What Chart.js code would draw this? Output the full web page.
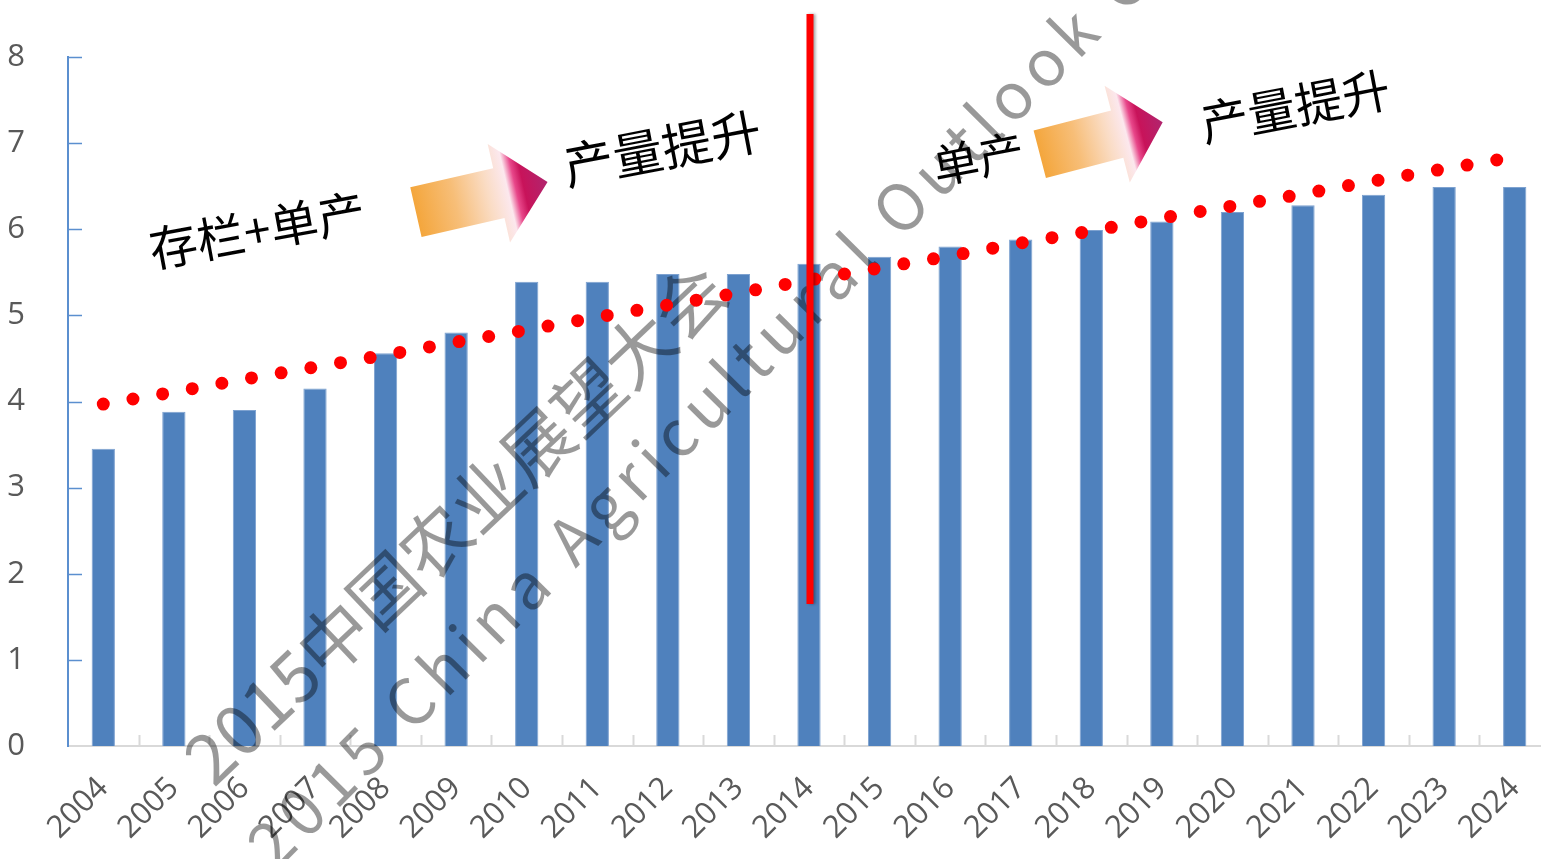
<!DOCTYPE html>
<html>
<head>
<meta charset="utf-8">
<script src="https://cdn.jsdelivr.net/npm/chart.js@4/dist/chart.umd.min.js"></script>
<style>
  html, body { margin: 0; padding: 0; background: #fff; overflow: hidden; }
  #wrap { width: 1550px; height: 859px; }
</style>
</head>
<body>
<div id="wrap"><canvas id="c" width="1550" height="859"></canvas></div>
<script>
// data
const years = ['2004', '2005', '2006', '2007', '2008', '2009', '2010', '2011', '2012', '2013', '2014',
  '2015', '2016', '2017', '2018', '2019', '2020', '2021', '2022', '2023', '2024'];
const output = [3.45, 3.88, 3.90, 4.15, 4.56, 4.80, 5.39, 5.39, 5.48, 5.48, 5.60,
  5.68, 5.80, 5.88, 5.99, 6.09, 6.20, 6.28, 6.40, 6.49, 6.49];
const trend = [3.97, 4.11, 4.26, 4.40, 4.54, 4.69, 4.83, 4.98, 5.12, 5.26, 5.41,
  5.55, 5.69, 5.84, 5.98, 6.13, 6.27, 6.41, 6.56, 6.70, 6.84];
const yTicks = [0, 1, 2, 3, 4, 5, 6, 7, 8];
const dividerYear = '2014';
const dividerSpan = [1.65, 8.5];
const phaseText = ['存栏+单产', '产量提升', '单产', '产量提升'];
const watermark = ['2015中国农业展望大会', '2015 China Agricultural Outlook Conference'];

const CJK = "'Noto Sans CJK SC', 'Noto Sans', sans-serif";
Chart.defaults.font.family = "'Open Sans', sans-serif";

// where the annotations sit, in (category index, y value)
const texts = [
  { t: phaseText[0], at: [2.18, 5.99], rot: -10.5, size: 48 },
  { t: phaseText[1], at: [7.92, 6.94], rot: -10.8, size: 50 },
  { t: phaseText[2], at: [12.40, 6.82], rot: -11, size: 46 },
  { t: phaseText[3], at: [16.89, 7.43], rot: -10.9, size: 48 }
];
const arrows = [
  { at: [4.43, 6.20], rot: -12.8, len: 135, shaft: 25.5, head: 50.5 },
  { at: [13.27, 6.87], rot: -14.6, len: 127, shaft: 24.5, head: 50 }
];

function spacedWidth(ctx, s, sp) {
  let w = 0;
  for (const ch of s) w += ctx.measureText(ch).width + sp;
  return w - sp;
}
function drawSpaced(ctx, s, x, sp) {
  for (const ch of s) { ctx.fillText(ch, x, 0); x += ctx.measureText(ch).width + sp; }
}

function drawWatermark(chart) {
  const ctx = chart.ctx;
  ctx.save();
  ctx.fillStyle = 'rgba(0,0,0,0.4)';
  ctx.textBaseline = 'middle';
  ctx.textAlign = 'left';
  // chinese line, centred
  ctx.save();
  ctx.font = '70px ' + CJK;
  ctx.translate(455, 523);
  ctx.rotate(-43.5 * Math.PI / 180);
  drawSpaced(ctx, watermark[0], -spacedWidth(ctx, watermark[0], 0) / 2, 0);
  ctx.restore();
  // english line, placed by its "A"
  ctx.save();
  ctx.font = '64px ' + CJK;
  const sp = 7.6;
  const pre = spacedWidth(ctx, '2015 China ', sp) + sp + ctx.measureText('A').width / 2;
  ctx.translate(572, 538);
  ctx.rotate(-45.3 * Math.PI / 180);
  drawSpaced(ctx, watermark[1], -pre, sp);
  ctx.restore();
  ctx.restore();
}

function drawArrow(ctx, a, x, y) {
  ctx.save();
  ctx.translate(x, y);
  ctx.rotate(a.rot * Math.PI / 180);
  const hb = a.len * 0.63;
  const g = ctx.createLinearGradient(0, 0, a.len, 0);
  g.addColorStop(0, '#F4A63C');
  g.addColorStop(0.3, '#F7BE78');
  g.addColorStop(0.55, '#FADCC4');
  g.addColorStop(0.7, '#FCE8EE');
  g.addColorStop(0.76, '#E8478A');
  g.addColorStop(0.82, '#C8135A');
  g.addColorStop(1, '#B0256E');
  ctx.fillStyle = g;
  ctx.beginPath();
  ctx.moveTo(0, -a.shaft);
  ctx.lineTo(hb, -a.shaft);
  ctx.lineTo(hb, -a.head);
  ctx.lineTo(a.len, 0);
  ctx.lineTo(hb, a.head);
  ctx.lineTo(hb, a.shaft);
  ctx.lineTo(0, a.shaft);
  ctx.closePath();
  ctx.fill();
  ctx.restore();
}

const decor = {
  id: 'decor',
  beforeDatasetsDraw(chart) {
    const { ctx, scales: { x, y }, chartArea } = chart;
    ctx.save();
    // x axis tick marks between categories, pointing up
    ctx.strokeStyle = '#D9D9D9';
    ctx.lineWidth = 2;
    for (let i = 1; i <= years.length; i++) {
      const px = Math.round(x.getPixelForValue(i - 0.5)) + 0.5;
      ctx.beginPath();
      ctx.moveTo(px, chartArea.bottom);
      ctx.lineTo(px, chartArea.bottom - 11);
      ctx.stroke();
    }
    // y axis tick marks, pointing right
    ctx.strokeStyle = '#5B8FCF';
    ctx.lineWidth = 1.5;
    for (const v of yTicks) {
      if (v === 0) continue;
      const py = Math.round(y.getPixelForValue(v)) + 0.5;
      ctx.beginPath();
      ctx.moveTo(chartArea.left, py);
      ctx.lineTo(chartArea.left + 14, py);
      ctx.stroke();
    }
    ctx.restore();
  },
  afterDatasetDraw(chart, args) {
    if (args.index === 0) drawWatermark(chart);
  },
  afterDraw(chart) {
    const { ctx, scales: { x, y } } = chart;
    // divider at 2014
    ctx.save();
    const dx = x.getPixelForValue(years.indexOf(dividerYear)) + 1;
    ctx.shadowColor = 'rgba(0,0,0,0.35)';
    ctx.shadowBlur = 3;
    ctx.shadowOffsetX = 2;
    ctx.strokeStyle = '#FF0000';
    ctx.lineWidth = 7;
    ctx.beginPath();
    ctx.moveTo(dx, y.getPixelForValue(dividerSpan[1]));
    ctx.lineTo(dx, y.getPixelForValue(dividerSpan[0]));
    ctx.stroke();
    ctx.restore();

    for (const a of arrows) {
      drawArrow(ctx, a, x.getPixelForValue(a.at[0]), y.getPixelForValue(a.at[1]));
    }
    ctx.save();
    ctx.fillStyle = '#000';
    ctx.textAlign = 'center';
    ctx.textBaseline = 'middle';
    for (const t of texts) {
      ctx.save();
      ctx.font = t.size + 'px ' + CJK;
      ctx.translate(x.getPixelForValue(t.at[0]), y.getPixelForValue(t.at[1]));
      ctx.rotate(t.rot * Math.PI / 180);
      ctx.fillText(t.t, 0, 0);
      ctx.restore();
    }
    ctx.restore();
  }
};

new Chart(document.getElementById('c'), {
  data: {
    labels: years,
    datasets: [
      {
        type: 'bar',
        data: output,
        backgroundColor: '#4F81BD',
        borderColor: '#7EA2D0',
        borderWidth: 1,
        barPercentage: 0.33,
        categoryPercentage: 1,
        order: 1
      },
      {
        type: 'line',
        data: trend,
        borderColor: '#FF0000',
        borderWidth: 13,
        borderCapStyle: 'round',
        borderDash: [0, 30.1],
        pointRadius: 0,
        tension: 0,
        fill: false,
        order: 0
      }
    ]
  },
  options: {
    responsive: false,
    animation: false,
    events: [],
    layout: { padding: { top: 57, right: 0, left: 0, bottom: 0 } },
    plugins: { legend: { display: false }, tooltip: { enabled: false } },
    scales: {
      x: {
        grid: { display: false },
        border: { display: true, color: '#D9D9D9', width: 2 },
        ticks: {
          color: '#595959',
          font: { size: 31 },
          minRotation: 45,
          maxRotation: 45,
          autoSkip: false,
          padding: 16
        },
        afterFit: s => { s.height = 113; s.paddingLeft = 0; s.paddingRight = 0; }
      },
      y: {
        min: 0,
        max: 8,
        grid: { display: false },
        border: { display: true, color: '#5B8FCF', width: 2 },
        ticks: { color: '#595959', font: { size: 31 }, padding: 35 },
        afterBuildTicks: s => { s.ticks = yTicks.map(v => ({ value: v })); },
        afterFit: s => { s.width = 68; s.paddingTop = 0; s.paddingBottom = 0; }
      }
    }
  },
  plugins: [decor]
});
</script>
</body>
</html>
